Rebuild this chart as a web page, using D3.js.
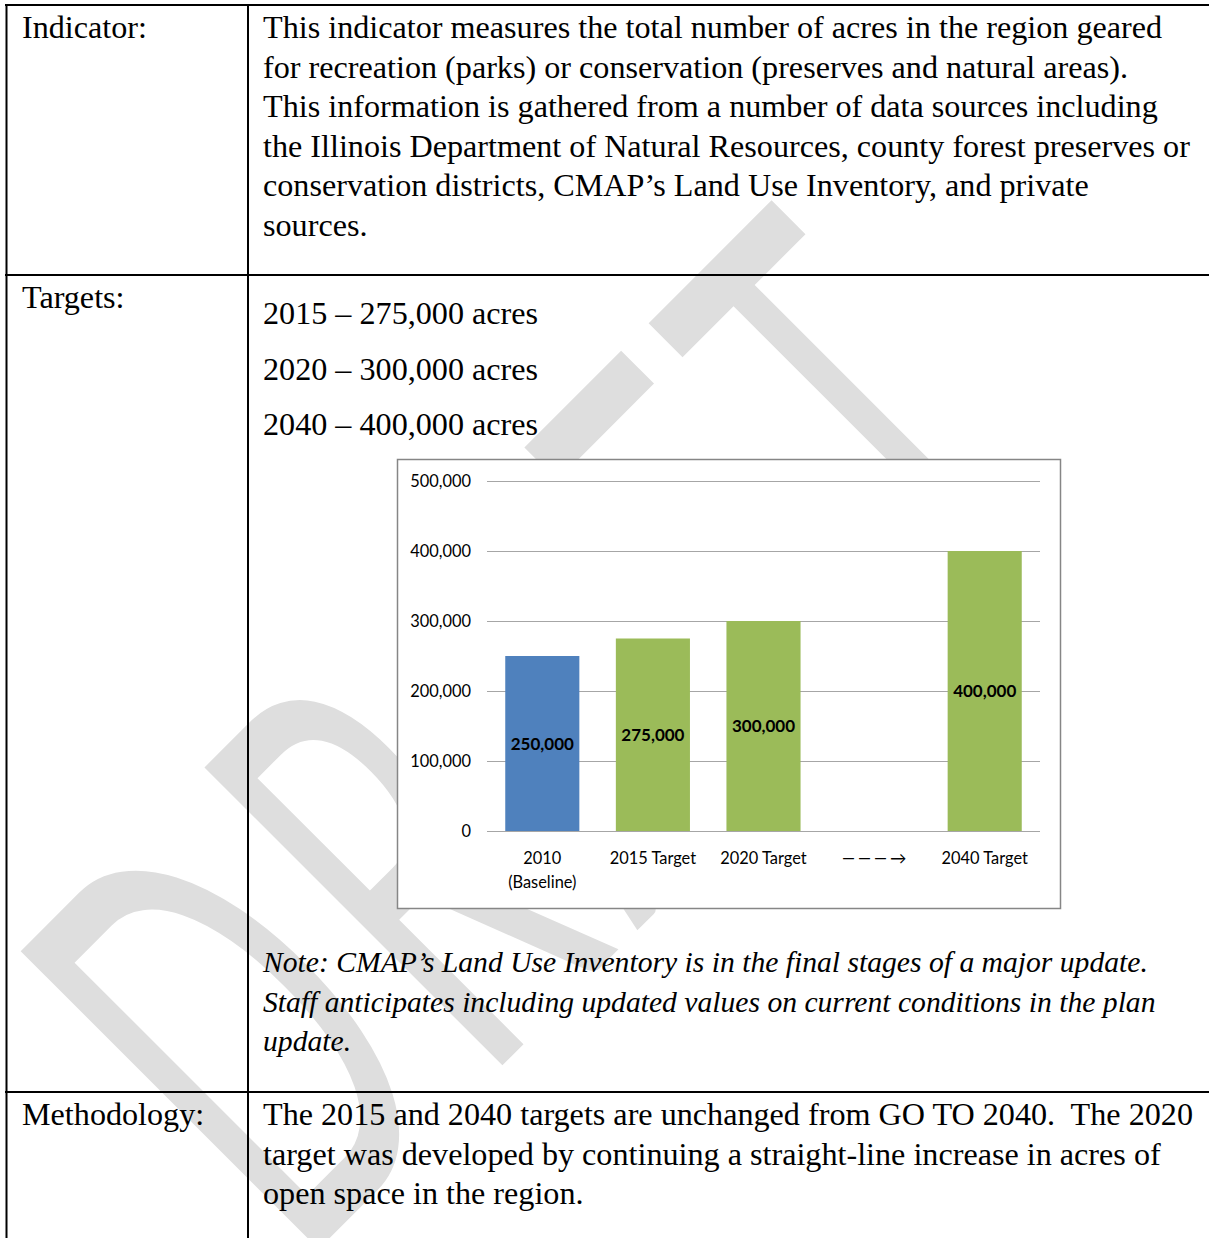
<!DOCTYPE html>
<html lang="en">
<head>
<meta charset="UTF-8">
<title>Open space acres</title>
<script src="https://cdn.jsdelivr.net/npm/d3@7"></script>
<style>
  body { margin: 0; background: #fff; }
  svg { display: block; }
</style>
</head>
<body>
<script>
// chart data
var categoryLines = [["2010", "(Baseline)"], ["2015 Target"], ["2020 Target"], ["\u2014\u2014\u2014\u2192"], ["2040 Target"]];
var values = [250000, 275000, 300000, null, 400000];
var kinds = ["baseline", "target", "target", null, "target"];
var yTicks = [0, 100000, 200000, 300000, 400000, 500000];

// page text
var rowLabels = ["Indicator:", "Targets:", "Methodology:"];
var indicatorLines = [
    "This indicator measures the total number of acres in the region geared",
    "for recreation (parks) or conservation (preserves and natural areas).",
    "This information is gathered from a number of data sources including",
    "the Illinois Department of Natural Resources, county forest preserves or",
    "conservation districts, CMAP\u2019s Land Use Inventory, and private",
    "sources."
];
var targetLines = ["2015 \u2013 275,000 acres", "2020 \u2013 300,000 acres", "2040 \u2013 400,000 acres"];
var noteLines = [
    "Note: CMAP\u2019s Land Use Inventory is in the final stages of a major update.",
    "Staff anticipates including updated values on current conditions in the plan",
    "update."
];
var methodLines = [
    "The 2015 and 2040 targets are unchanged from GO TO 2040.  The 2020",
    "target was developed by continuing a straight-line increase in acres of",
    "open space in the region."
];

var W = 1209, H = 1238;
var serif = "'Liberation Serif', 'Times New Roman', serif";
var sans = "Lato, 'Open Sans', sans-serif";

var svg = d3.select("body").append("svg")
    .attr("width", W)
    .attr("height", H);

svg.append("rect").attr("width", W).attr("height", H).attr("fill", "#fff");

// DRAFT watermark, stretched along the diagonal
var wm = svg.append("g").attr("transform", "translate(549,721) rotate(-45) translate(-8,0)");
var wmText = wm.append("text")
    .text("DRAFT")
    .attr("font-family", sans)
    .attr("font-size", 100)
    .attr("fill", "#dedede");
var w0 = wmText.node().getComputedTextLength();
var capH = 71.6;
var sx = 3.1;
var sy = 421 / capH;
var ls = (1025 / sx - 0.93 * w0) / 4;
wmText.attr("letter-spacing", ls);
var wEff = w0 + 4 * ls;
wmText.attr("transform", "scale(" + sx + "," + sy + ") translate(" + (-wEff / 2 - 3) + "," + (capH / 2) + ")");

// chart box
var chart = svg.append("g");
chart.append("rect")
    .attr("x", 397.5).attr("y", 459.5)
    .attr("width", 663).attr("height", 449)
    .attr("fill", "#fff")
    .attr("stroke", "#868686")
    .attr("stroke-width", 1.5);

var x = d3.scaleBand()
    .domain(d3.range(categoryLines.length))
    .range([487, 1040])
    .paddingInner(0.33)
    .paddingOuter(0.165);

var y = d3.scaleLinear()
    .domain([0, 500000])
    .range([831, 481]);

var color = d3.scaleOrdinal()
    .domain(["baseline", "target"])
    .range(["#4f81bd", "#9bbb59"]);

var yAxis = chart.append("g")
    .attr("transform", "translate(487,0)")
    .call(d3.axisLeft(y)
        .tickValues(yTicks)
        .tickSize(-(1040 - 487))
        .tickPadding(16)
        .tickFormat(d3.format(",")));
yAxis.select(".domain").remove();
yAxis.selectAll(".tick line").attr("stroke", "#a6a6a6").attr("stroke-width", 1);
yAxis.selectAll(".tick text")
    .attr("font-family", sans)
    .attr("font-size", 16.4)
    .attr("fill", "#000")
    .attr("dy", "0.36em");

var xAxis = chart.append("g")
    .attr("transform", "translate(0,831)")
    .call(d3.axisBottom(x).tickSize(0).tickPadding(0).tickFormat(""));
xAxis.select(".domain").remove();
xAxis.selectAll(".tick text").each(function (i) {
    var t = d3.select(this)
        .attr("dy", null)
        .attr("font-family", sans)
        .attr("font-size", 16.4)
        .attr("fill", "#000");
    if (values[i] == null) t.attr("letter-spacing", 3).attr("dx", 1.5);
    categoryLines[i].forEach(function (s, j) {
        t.append("tspan").attr("x", 0).attr("y", 33 + j * 24).text(s);
    });
});

var barData = values.map(function (v, i) { return {i: i, v: v}; })
    .filter(function (d) { return d.v != null; });

chart.selectAll("rect.bar")
    .data(barData)
    .enter()
    .append("rect")
    .attr("class", "bar")
    .attr("x", function (d) { return x(d.i); })
    .attr("y", function (d) { return y(d.v); })
    .attr("width", x.bandwidth())
    .attr("height", function (d) { return y(0) - y(d.v); })
    .attr("fill", function (d) { return color(kinds[d.i]); });

chart.selectAll("text.val")
    .data(barData)
    .enter()
    .append("text")
    .attr("class", "val")
    .attr("x", function (d) { return x(d.i) + x.bandwidth() / 2; })
    .attr("y", function (d) { return (y(d.v) + y(0)) / 2; })
    .attr("dy", "0.36em")
    .attr("text-anchor", "middle")
    .attr("font-family", sans)
    .attr("font-weight", "bold")
    .attr("font-size", 17)
    .attr("fill", "#000")
    .text(function (d) { return d3.format(",")(d.v); });

// table rules
var rules = svg.append("g").attr("stroke", "#000").attr("stroke-width", 2);
rules.append("line").attr("x1", 5).attr("x2", W).attr("y1", 5).attr("y2", 5);
rules.append("line").attr("x1", 6.5).attr("x2", 6.5).attr("y1", 4).attr("y2", H);
rules.append("line").attr("x1", 248).attr("x2", 248).attr("y1", 4).attr("y2", H);
rules.append("line").attr("x1", 5).attr("x2", W).attr("y1", 275).attr("y2", 275);
rules.append("line").attr("x1", 5).attr("x2", W).attr("y1", 1092).attr("y2", 1092);

// fit the serif size so the longest line fills the text column
function widest(lines, style) {
    var t = svg.append("text").attr("font-family", serif).attr("font-size", 100).attr("font-style", style);
    var m = 0;
    lines.forEach(function (s) {
        t.text(s);
        m = Math.max(m, t.node().getComputedTextLength());
    });
    t.remove();
    return m;
}
var fs = 100 * 927 / widest(indicatorLines.concat(methodLines), "normal");
var fsItalic = 100 * 893 / widest(noteLines, "italic");

function block(lines, x0, y0, step, style) {
    svg.append("g").selectAll("text")
        .data(lines)
        .enter()
        .append("text")
        .attr("x", x0)
        .attr("y", function (d, i) { return y0 + i * step; })
        .attr("font-family", serif)
        .attr("font-size", style === "italic" ? fsItalic : fs)
        .attr("font-style", style)
        .attr("fill", "#000")
        .style("white-space", "pre")
        .text(function (d) { return d; });
}

block([rowLabels[0]], 22, 38, 0, "normal");
block([rowLabels[1]], 22, 308, 0, "normal");
block([rowLabels[2]], 22, 1125, 0, "normal");

block(indicatorLines, 263, 38, 39.6, "normal");
block(targetLines, 263, 324, 55.5, "normal");
block(noteLines, 263, 972, 39.6, "italic");
block(methodLines, 263, 1125, 39.6, "normal");
</script>
</body>
</html>
